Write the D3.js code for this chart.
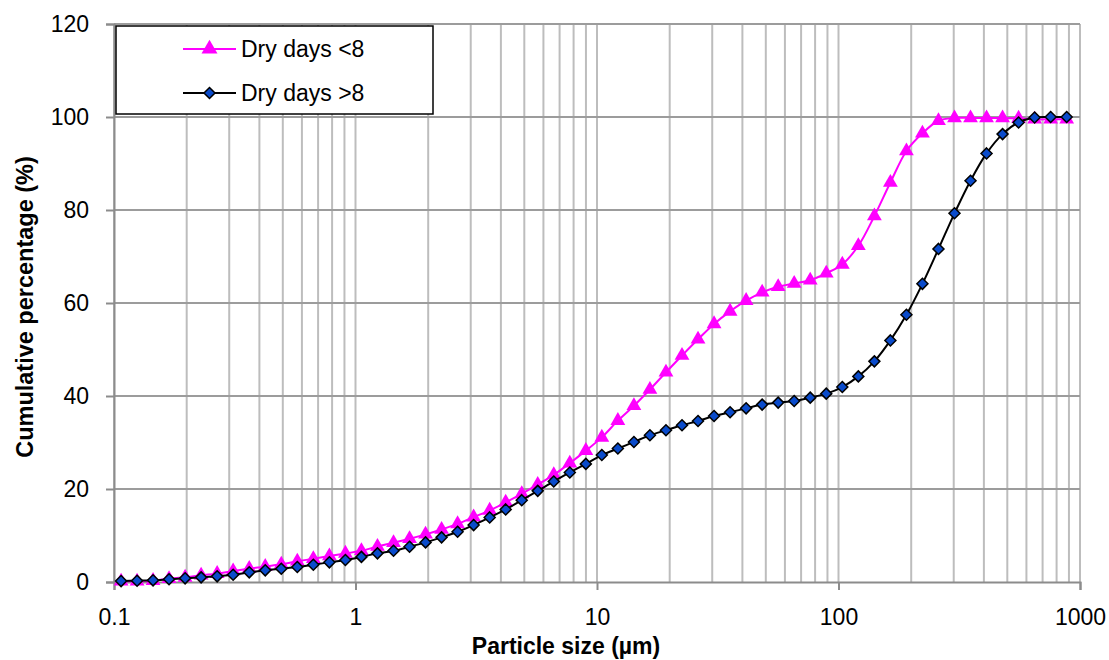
<!DOCTYPE html>
<html>
<head>
<meta charset="utf-8">
<script src="https://cdn.jsdelivr.net/npm/d3@7"></script>
<style>
  html, body { margin: 0; padding: 0; background: #fff; }
  svg { display: block; }
  text { font-family: "Liberation Sans", Arial, sans-serif; fill: #000; }
</style>
</head>
<body>
<svg id="chart" width="1109" height="660"></svg>
<script>
// Particle size classes (µm), shared by both samples
const sizes = [
  0.107, 0.1246, 0.1451, 0.169, 0.197, 0.2295, 0.2674, 0.3114, 0.3631, 0.4229,
  0.4928, 0.5742, 0.6689, 0.7795, 0.9083, 1.058, 1.233, 1.437, 1.674, 1.95,
  2.272, 2.647, 3.084, 3.594, 4.187, 4.879, 5.683, 6.622, 7.716, 8.99,
  10.47, 12.2, 14.22, 16.56, 19.3, 22.49, 26.2, 30.53, 35.57, 41.44,
  48.29, 56.26, 65.54, 76.37, 88.98, 103.7, 120.8, 140.8, 164.0, 191.1,
  222.6, 259.4, 302.2, 352.1, 410.2, 477.9, 556.8, 648.8, 755.9, 880.7
];

// Cumulative percentage, samples with fewer than 8 dry days
const dryLess8 = [
  0.15, 0.15, 0.3, 0.7, 1.0, 1.45, 1.8, 2.35, 2.9, 3.3,
  3.8, 4.45, 5.0, 5.6, 6.15, 6.7, 7.65, 8.45, 9.3, 10.25,
  11.3, 12.5, 13.95, 15.4, 17.15, 18.95, 20.95, 23.05, 25.55, 28.25,
  31.1, 34.7, 37.9, 41.4, 45.1, 48.7, 52.2, 55.5, 58.2, 60.5,
  62.3, 63.5, 64.2, 64.9, 66.4, 68.3, 72.3, 78.7, 85.9, 92.7,
  96.5, 99.2, 99.8, 99.8, 99.8, 99.8, 99.7, 99.5, 99.5, 99.5
];

// Cumulative percentage, samples with more than 8 dry days
const dryMore8 = [
  0.2, 0.28, 0.36, 0.58, 0.79, 1.0, 1.22, 1.57, 2.08, 2.51,
  2.86, 3.22, 3.72, 4.23, 4.72, 5.4, 6.16, 6.72, 7.58, 8.52,
  9.6, 10.8, 12.24, 13.89, 15.61, 17.6, 19.6, 21.62, 23.55, 25.4,
  27.3, 28.7, 30.12, 31.56, 32.63, 33.7, 34.63, 35.7, 36.5, 37.35,
  38.15, 38.58, 38.92, 39.65, 40.51, 41.93, 44.22, 47.45, 51.95, 57.47,
  64.12, 71.63, 79.29, 86.3, 92.17, 96.32, 98.83, 99.9, 100, 100
];

const xTickValues = [0.1, 1, 10, 100, 1000];
const xTickLabels = ["0.1", "1", "10", "100", "1000"];
const yTickValues = [0, 20, 40, 60, 80, 100, 120];

const seriesNames = ["Dry days <8", "Dry days >8"];

const FONT = '"Liberation Sans", Arial, sans-serif';

const svg = d3.select("#chart");

const x = d3.scaleLog().domain([0.1, 1000]).range([114, 1080]);
const y = d3.scaleLinear().domain([0, 120]).range([582, 24]);

// Vertical gridlines at every log step (1..9 per decade)
svg.append("g")
  .selectAll("line")
  .data(x.ticks())
  .join("line")
  .attr("x1", d => x(d)).attr("x2", d => x(d))
  .attr("y1", y(120)).attr("y2", y(0))
  .attr("stroke", "#bdbdbd")
  .attr("stroke-width", 2);

// Horizontal gridlines
svg.append("g")
  .selectAll("line")
  .data(yTickValues.slice(1))
  .join("line")
  .attr("x1", x(0.1)).attr("x2", x(1000))
  .attr("y1", d => y(d)).attr("y2", d => y(d))
  .attr("stroke", "#9c9c9c")
  .attr("stroke-width", 2);

// Y axis
const yAxis = svg.append("g")
  .attr("transform", `translate(${x(0.1)},0)`)
  .call(d3.axisLeft(y).tickValues(yTickValues).tickSize(8).tickPadding(17));
yAxis.select(".domain").attr("stroke", "#8c8c8c").attr("stroke-width", 2);
yAxis.selectAll(".tick line").attr("stroke", "#8c8c8c").attr("stroke-width", 2);
yAxis.selectAll(".tick text")
  .style("font-family", FONT)
  .attr("font-size", 23).attr("fill", "#000");

// X axis
const xAxis = svg.append("g")
  .attr("transform", `translate(0,${y(0)})`)
  .call(d3.axisBottom(x).tickValues(xTickValues)
    .tickFormat((d, i) => xTickLabels[i]).tickSize(8).tickPadding(19));
xAxis.select(".domain").attr("stroke", "#8c8c8c").attr("stroke-width", 2);
xAxis.selectAll(".tick line").attr("stroke", "#8c8c8c").attr("stroke-width", 2);
xAxis.selectAll(".tick text")
  .style("font-family", FONT)
  .attr("font-size", 23).attr("fill", "#000");

// Axis titles
svg.append("text")
  .attr("x", 566).attr("y", 654)
  .attr("text-anchor", "middle")
  .attr("font-size", 23).attr("font-weight", "bold")
  .text("Particle size (µm)");

svg.append("text")
  .attr("transform", "translate(33,307) rotate(-90)")
  .attr("text-anchor", "middle")
  .attr("font-size", 23.5).attr("font-weight", "bold")
  .text("Cumulative percentage (%)");

const line = d3.line()
  .x(d => x(d[0]))
  .y(d => y(d[1]))
  .curve(d3.curveCatmullRom.alpha(0.5));

const triangle = d3.symbol().type(d3.symbolTriangle).size(95);

function diamondPath(r) {
  return `M0,${-r}L${r},0L0,${r}L${-r},0Z`;
}

// Series 1: fewer than 8 dry days
const s1 = sizes.map((s, i) => [s, dryLess8[i]]);
svg.append("path")
  .datum(s1)
  .attr("d", line)
  .attr("fill", "none")
  .attr("stroke", "#ff00ff")
  .attr("stroke-width", 2);
svg.append("g")
  .selectAll("path")
  .data(s1)
  .join("path")
  .attr("transform", d => `translate(${x(d[0])},${y(d[1])})`)
  .attr("d", triangle)
  .attr("fill", "#ff00ff");

// Series 2: more than 8 dry days
const s2 = sizes.map((s, i) => [s, dryMore8[i]]);
svg.append("path")
  .datum(s2)
  .attr("d", line)
  .attr("fill", "none")
  .attr("stroke", "#000")
  .attr("stroke-width", 2);
svg.append("g")
  .selectAll("path")
  .data(s2)
  .join("path")
  .attr("transform", d => `translate(${x(d[0])},${y(d[1])})`)
  .attr("d", diamondPath(5.5))
  .attr("fill", "#0a4bcb")
  .attr("stroke", "#000")
  .attr("stroke-width", 1.5);

// Legend
const legend = svg.append("g");
legend.append("rect")
  .attr("x", 116).attr("y", 26)
  .attr("width", 317).attr("height", 88)
  .attr("fill", "#fff")
  .attr("stroke", "#000")
  .attr("stroke-width", 1.5);

const legendRows = [
  { name: seriesNames[0], color: "#ff00ff", cy: 49, marker: "triangle" },
  { name: seriesNames[1], color: "#000", cy: 93, marker: "diamond" }
];
legendRows.forEach(r => {
  legend.append("line")
    .attr("x1", 183).attr("x2", 236)
    .attr("y1", r.cy).attr("y2", r.cy)
    .attr("stroke", r.color).attr("stroke-width", 2);
  if (r.marker === "triangle") {
    legend.append("path")
      .attr("transform", `translate(209.5,${r.cy})`)
      .attr("d", d3.symbol().type(d3.symbolTriangle).size(110))
      .attr("fill", "#ff00ff");
  } else {
    legend.append("path")
      .attr("transform", `translate(209.5,${r.cy})`)
      .attr("d", diamondPath(5.5))
      .attr("fill", "#0a4bcb")
      .attr("stroke", "#000")
      .attr("stroke-width", 1.5);
  }
  legend.append("text")
    .attr("x", 241).attr("y", r.cy)
    .attr("dy", "0.35em")
    .attr("font-size", 23)
    .text(r.name);
});
</script>
</body>
</html>
